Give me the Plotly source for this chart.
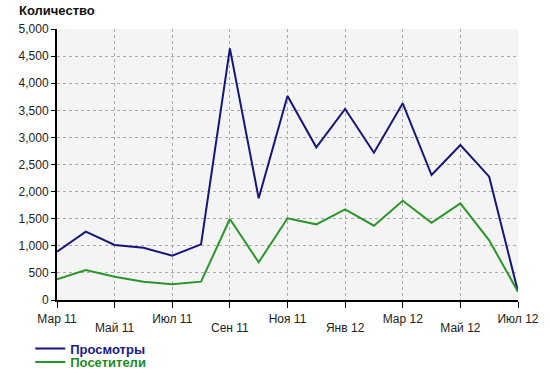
import plotly.graph_objects as go

months = ["Мар 11", "Апр 11", "Май 11", "Июн 11", "Июл 11", "Авг 11", "Сен 11", "Окт 11", "Ноя 11",
          "Дек 11", "Янв 12", "Фев 12", "Мар 12", "Апр 12", "Май 12", "Июн 12", "Июл 12"]
views = [890, 1260, 1015, 965, 818, 1027, 4643, 1876, 3764, 2817, 3524, 2718, 3629, 2306, 2860, 2275, 153]
visitors = [381, 553, 430, 338, 290, 338, 1494, 696, 1507, 1396, 1673, 1371, 1832, 1426, 1784, 1100, 153]

x = list(range(len(months)))
tick_idx = list(range(0, 17, 2))
row1_idx = tick_idx[0::2]
row2_idx = tick_idx[1::2]

blue = "#16167a"
green = "#2a962a"

fig = go.Figure()
fig.add_trace(go.Scatter(x=x, y=views, mode="lines", line=dict(color=blue, width=2),
                         name="<b><span style='color:#1a1a86'>Просмотры</span></b>", legend="legend"))
fig.add_trace(go.Scatter(x=x, y=visitors, mode="lines", line=dict(color=green, width=2),
                         name="<b><span style='color:#1c8c1c'>Посетители</span></b>", legend="legend2"))
# helper invisible trace to activate the second x axis (for the lower row of tick labels)
fig.add_trace(go.Scatter(x=[0, 16], y=[None, None], xaxis="x2", showlegend=False, hoverinfo="skip"))

leg_common = dict(x=-0.058, xanchor="left", yanchor="top", bgcolor="rgba(0,0,0,0)",
                  font=dict(size=13), tracegroupgap=0, itemwidth=30)
fig.update_layout(
    width=550, height=379,
    margin=dict(l=57, r=32, t=29, b=79, autoexpand=False),
    paper_bgcolor="white", plot_bgcolor="#f4f4f4",
    font=dict(family="Liberation Sans, Arial, sans-serif", size=12, color="#222"),
    showlegend=True,
    legend=dict(y=-0.124, **leg_common),
    legend2=dict(y=-0.174, **leg_common),
    annotations=[dict(text="<b>Количество</b>", xref="paper", yref="paper", x=-0.087, y=1.035,
                      xanchor="left", yanchor="bottom", showarrow=False,
                      font=dict(size=13, color="#111"))],
    xaxis2=dict(overlaying="x", anchor="y", side="bottom", range=[0, 16], tickmode="array",
                tickvals=row2_idx, ticktext=[months[i] for i in row2_idx],
                showgrid=False, showline=False, zeroline=False, ticks="",
                ticklabelstandoff=19),
)
fig.layout.xaxis.update(range=[0, 16], tickmode="array", tickvals=tick_idx,
                        ticktext=[months[i] if i in row1_idx else "" for i in tick_idx],
                        showgrid=True, gridcolor="#aaaaaa", griddash="dot", gridwidth=1,
                        showline=True, linecolor="black", linewidth=2,
                        ticks="outside", ticklen=6, tickcolor="black", zeroline=False,
                        ticklabelstandoff=1)
fig.update_yaxes(range=[0, 5000], dtick=500, tickformat=",d",
                 showgrid=True, gridcolor="#aaaaaa", griddash="dot", gridwidth=1,
                 showline=True, linecolor="black", linewidth=2,
                 ticks="outside", ticklen=4, tickcolor="black", zeroline=False)

fig.write_html("out.html")
